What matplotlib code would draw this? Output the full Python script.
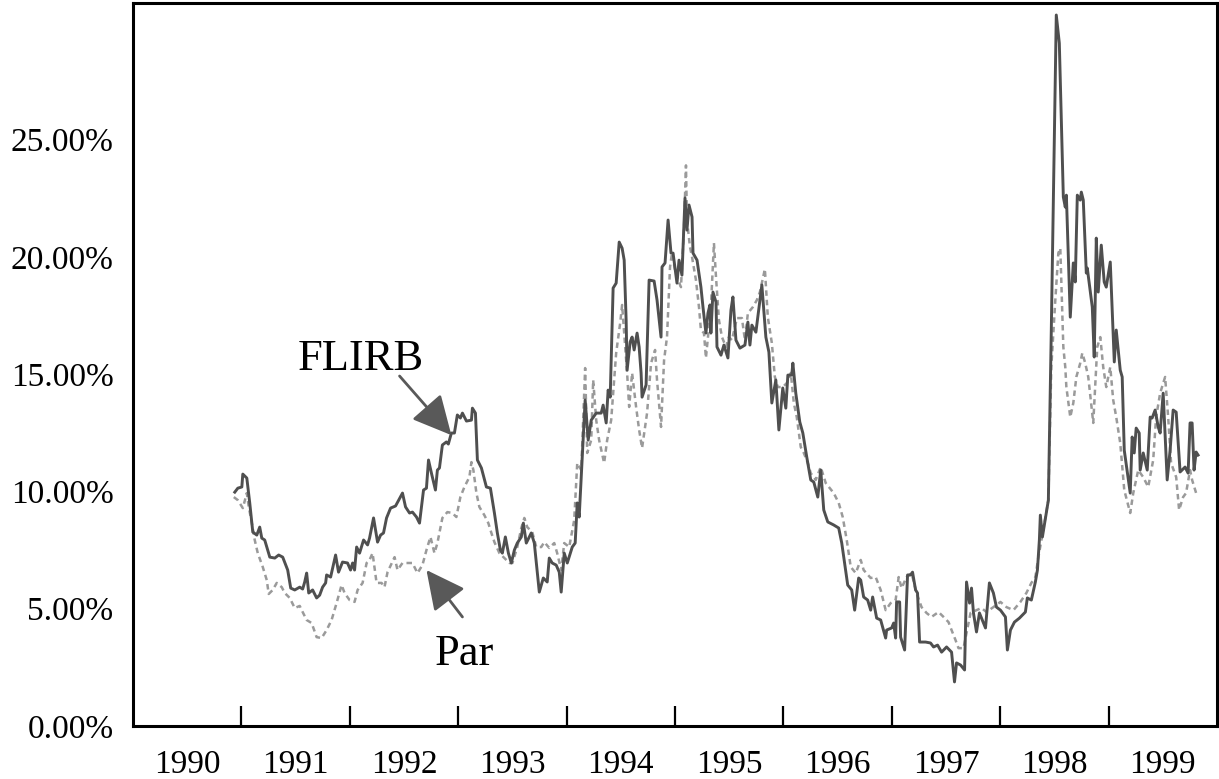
import matplotlib
matplotlib.use("Agg")
import matplotlib.pyplot as plt

plt.rcParams['font.family'] = ['Liberation Serif', 'DejaVu Serif']

# FLIRB volatility (decimal year, percent)
flirb_t = [1990.939, 1990.967, 1991.004, 1991.013, 1991.050, 1991.077, 1991.105, 1991.142, 1991.169, 1991.188,
           1991.215, 1991.262, 1991.308, 1991.344, 1991.381, 1991.427, 1991.455, 1991.492, 1991.538, 1991.565,
           1991.584, 1991.602, 1991.621, 1991.657, 1991.694, 1991.722, 1991.749, 1991.777, 1991.786, 1991.823,
           1991.869, 1991.896, 1991.933, 1991.979, 1992.007, 1992.026, 1992.044, 1992.063, 1992.090, 1992.127,
           1992.164, 1992.182, 1992.219, 1992.256, 1992.284, 1992.311, 1992.339, 1992.376, 1992.422, 1992.486,
           1992.514, 1992.551, 1992.578, 1992.615, 1992.643, 1992.680, 1992.707, 1992.726, 1992.753, 1992.790,
           1992.808, 1992.827, 1992.854, 1992.891, 1992.909, 1992.937, 1992.965, 1992.992, 1993.020, 1993.039,
           1993.076, 1993.122, 1993.131, 1993.159, 1993.177, 1993.214, 1993.260, 1993.297, 1993.334, 1993.361,
           1993.389, 1993.407, 1993.435, 1993.463, 1993.490, 1993.518, 1993.545, 1993.582, 1993.601, 1993.628,
           1993.674, 1993.702, 1993.748, 1993.785, 1993.821, 1993.840, 1993.867, 1993.904, 1993.932, 1993.950,
           1993.978, 1994.006, 1994.052, 1994.079, 1994.098, 1994.116, 1994.171, 1994.199, 1994.227, 1994.273,
           1994.319, 1994.337, 1994.365, 1994.383, 1994.402, 1994.429, 1994.457, 1994.485, 1994.512, 1994.531,
           1994.549, 1994.558, 1994.586, 1994.604, 1994.623, 1994.650, 1994.669, 1994.687, 1994.696, 1994.733,
           1994.761, 1994.807, 1994.834, 1994.871, 1994.880, 1994.908, 1994.936, 1994.963, 1994.982, 1995.000,
           1995.018, 1995.037, 1995.064, 1995.092, 1995.110, 1995.129, 1995.157, 1995.166, 1995.203, 1995.239,
           1995.258, 1995.285, 1995.304, 1995.322, 1995.331, 1995.350, 1995.378, 1995.387, 1995.424, 1995.451,
           1995.488, 1995.516, 1995.534, 1995.562, 1995.599, 1995.645, 1995.672, 1995.691, 1995.709, 1995.746,
           1995.801, 1995.838, 1995.866, 1995.893, 1995.930, 1995.958, 1995.994, 1996.022, 1996.041, 1996.077,
           1996.087, 1996.114, 1996.151, 1996.179, 1996.215, 1996.252, 1996.280, 1996.317, 1996.344, 1996.372,
           1996.409, 1996.464, 1996.510, 1996.538, 1996.593, 1996.630, 1996.657, 1996.694, 1996.713, 1996.740,
           1996.777, 1996.805, 1996.823, 1996.860, 1996.897, 1996.943, 1996.952, 1996.998, 1997.017, 1997.035,
           1997.044, 1997.072, 1997.081, 1997.118, 1997.145, 1997.173, 1997.191, 1997.219, 1997.237, 1997.256,
           1997.311, 1997.357, 1997.385, 1997.422, 1997.459, 1997.505, 1997.551, 1997.578, 1997.597, 1997.634,
           1997.671, 1997.689, 1997.717, 1997.735, 1997.753, 1997.781, 1997.808, 1997.864, 1997.900, 1997.937,
           1997.965, 1998.002, 1998.048, 1998.066, 1998.094, 1998.131, 1998.177, 1998.232, 1998.250, 1998.287,
           1998.324, 1998.343, 1998.361, 1998.370, 1998.389, 1998.444, 1998.471, 1998.517, 1998.545, 1998.582,
           1998.600, 1998.610, 1998.646, 1998.674, 1998.692, 1998.711, 1998.738, 1998.748, 1998.766, 1998.794,
           1998.803, 1998.849, 1998.867, 1998.886, 1998.904, 1998.932, 1998.959, 1998.978, 1999.015, 1999.052,
           1999.070, 1999.107, 1999.125, 1999.144, 1999.199, 1999.217, 1999.236, 1999.254, 1999.282, 1999.291,
           1999.319, 1999.356, 1999.383, 1999.401, 1999.429, 1999.457, 1999.475, 1999.503, 1999.540, 1999.567,
           1999.595, 1999.623, 1999.659, 1999.705, 1999.733, 1999.751, 1999.770, 1999.788, 1999.807, 1999.825]
flirb_v = [9.97, 10.14, 10.19, 10.74, 10.57, 9.51, 8.27, 8.14, 8.48, 8.01,
           7.93, 7.20, 7.16, 7.29, 7.20, 6.65, 5.88, 5.80, 5.92, 5.84,
           6.14, 6.52, 5.67, 5.80, 5.46, 5.58, 5.92, 6.10, 6.44, 6.35,
           7.29, 6.56, 6.99, 6.95, 6.65, 6.95, 6.65, 7.63, 7.37, 7.93,
           7.72, 8.01, 8.87, 7.84, 8.14, 8.23, 8.87, 9.29, 9.38, 9.93,
           9.34, 9.08, 9.12, 8.91, 8.65, 10.06, 10.14, 11.34, 10.78, 10.06,
           10.91, 11.00, 11.98, 12.11, 12.02, 12.49, 12.49, 13.26, 13.13, 13.34,
           13.00, 13.04, 13.55, 13.34, 11.34, 11.00, 10.19, 10.14, 9.08, 8.23,
           7.50, 7.37, 8.06, 7.37, 6.95, 7.50, 7.80, 8.06, 8.65, 7.80,
           8.23, 7.80, 5.71, 6.31, 6.14, 7.16, 6.95, 6.86, 6.56, 5.71,
           7.37, 6.95, 7.63, 7.80, 9.51, 8.91, 13.90, 12.19, 13.04, 13.34,
           13.34, 13.68, 12.92, 14.32, 14.02, 18.67, 18.88, 20.63, 20.37, 19.86,
           17.31, 15.17, 16.37, 16.58, 16.03, 16.75, 16.16, 15.05, 14.02, 14.54,
           19.01, 18.97, 18.16, 16.58, 19.57, 19.74, 21.57, 20.16, 20.16, 19.52,
           18.88, 19.86, 19.22, 22.51, 21.14, 22.21, 21.70, 20.16, 19.86, 18.71,
           17.86, 16.75, 17.60, 17.95, 16.75, 18.50, 18.07, 16.16, 15.81, 16.24,
           15.69, 17.73, 18.29, 16.45, 16.11, 16.24, 17.22, 16.24, 17.09, 16.79,
           18.80, 16.58, 15.94, 13.77, 14.75, 12.62, 14.41, 13.55, 14.96, 14.96,
           15.47, 14.19, 12.96, 12.49, 11.47, 10.49, 10.40, 9.76, 10.91, 9.21,
           8.70, 8.57, 8.44, 7.80, 6.01, 5.80, 4.94, 6.31, 6.22, 5.50,
           5.37, 4.94, 5.50, 4.60, 4.52, 3.75, 4.09, 4.18, 4.39, 3.75,
           5.29, 5.29, 3.79, 3.24, 6.44, 6.44, 6.56, 5.80, 5.67, 3.58,
           3.58, 3.54, 3.37, 3.45, 3.15, 3.37, 3.15, 1.88, 2.69, 2.60,
           2.39, 6.14, 5.24, 5.88, 4.82, 4.01, 4.82, 4.18, 6.10, 5.67,
           5.07, 4.94, 4.65, 3.24, 4.09, 4.43, 4.60, 4.86, 5.46, 5.37,
           6.14, 6.65, 7.93, 8.99, 8.06, 9.63, 16.88, 30.31, 29.11, 22.55,
           22.12, 22.63, 17.43, 19.74, 18.93, 22.63, 22.42, 22.76, 22.42, 19.31,
           19.52, 17.86, 15.73, 20.80, 18.50, 20.50, 18.93, 18.71, 19.78, 15.52,
           16.88, 15.17, 14.88, 11.76, 9.93, 12.32, 11.64, 12.70, 12.49, 10.91,
           11.64, 10.91, 13.17, 13.13, 13.47, 12.75, 12.49, 14.19, 10.49, 11.76,
           13.47, 13.38, 10.83, 11.04, 10.78, 12.92, 12.92, 10.91, 11.68, 11.55]

# Par volatility (decimal year, percent)
par_t = [1990.930, 1990.967, 1991.013, 1991.050, 1991.068, 1991.096, 1991.123, 1991.151, 1991.197, 1991.234,
         1991.252, 1991.289, 1991.326, 1991.372, 1991.400, 1991.446, 1991.492, 1991.538, 1991.565, 1991.602,
         1991.648, 1991.694, 1991.740, 1991.786, 1991.832, 1991.878, 1991.924, 1991.952, 1991.998, 1992.044,
         1992.072, 1992.118, 1992.155, 1992.182, 1992.210, 1992.247, 1992.293, 1992.320, 1992.348, 1992.413,
         1992.440, 1992.486, 1992.532, 1992.578, 1992.624, 1992.670, 1992.707, 1992.744, 1992.781, 1992.808,
         1992.854, 1992.900, 1992.946, 1992.983, 1993.020, 1993.057, 1993.103, 1993.122, 1993.140, 1993.168,
         1993.195, 1993.241, 1993.278, 1993.306, 1993.334, 1993.380, 1993.426, 1993.472, 1993.500, 1993.545,
         1993.582, 1993.610, 1993.637, 1993.683, 1993.720, 1993.766, 1993.794, 1993.840, 1993.886, 1993.913,
         1993.950, 1993.978, 1994.024, 1994.070, 1994.098, 1994.135, 1994.171, 1994.190, 1994.227, 1994.245,
         1994.273, 1994.300, 1994.346, 1994.374, 1994.411, 1994.457, 1994.494, 1994.512, 1994.531, 1994.558,
         1994.577, 1994.604, 1994.641, 1994.669, 1994.696, 1994.742, 1994.779, 1994.816, 1994.834, 1994.871,
         1994.899, 1994.926, 1994.954, 1994.972, 1995.000, 1995.028, 1995.055, 1995.083, 1995.101, 1995.110,
         1995.138, 1995.157, 1995.193, 1995.221, 1995.239, 1995.267, 1995.285, 1995.304, 1995.331, 1995.359,
         1995.378, 1995.405, 1995.433, 1995.470, 1995.497, 1995.525, 1995.571, 1995.617, 1995.645, 1995.672,
         1995.718, 1995.755, 1995.783, 1995.829, 1995.856, 1995.893, 1995.921, 1995.948, 1995.994, 1996.031,
         1996.068, 1996.096, 1996.123, 1996.160, 1996.188, 1996.225, 1996.252, 1996.298, 1996.344, 1996.390,
         1996.464, 1996.510, 1996.547, 1996.584, 1996.621, 1996.667, 1996.713, 1996.740, 1996.805, 1996.851,
         1996.897, 1996.943, 1996.989, 1997.035, 1997.063, 1997.090, 1997.136, 1997.182, 1997.228, 1997.274,
         1997.320, 1997.366, 1997.431, 1997.477, 1997.523, 1997.551, 1997.587, 1997.615, 1997.661, 1997.689,
         1997.726, 1997.781, 1997.827, 1997.873, 1997.937, 1998.002, 1998.057, 1998.122, 1998.186, 1998.241,
         1998.287, 1998.324, 1998.352, 1998.380, 1998.444, 1998.471, 1998.508, 1998.536, 1998.554, 1998.564,
         1998.582, 1998.600, 1998.610, 1998.646, 1998.674, 1998.702, 1998.738, 1998.757, 1998.784, 1998.812,
         1998.858, 1998.895, 1998.923, 1998.950, 1998.978, 1999.015, 1999.042, 1999.070, 1999.107, 1999.144,
         1999.199, 1999.227, 1999.273, 1999.319, 1999.365, 1999.411, 1999.438, 1999.475, 1999.521, 1999.549,
         1999.576, 1999.623, 1999.650, 1999.687, 1999.714, 1999.751, 1999.770, 1999.807]
par_v = [9.76, 9.63, 9.29, 9.93, 9.34, 8.65, 7.93, 7.37, 6.78, 6.22,
         5.63, 5.80, 6.10, 5.92, 5.67, 5.46, 5.03, 5.12, 4.86, 4.52,
         4.39, 3.79, 3.75, 4.09, 4.52, 5.24, 6.01, 5.67, 5.37, 5.29,
         5.80, 6.10, 6.95, 7.08, 7.37, 6.10, 6.10, 5.92, 6.56, 7.20,
         6.65, 6.95, 6.95, 6.95, 6.52, 6.86, 7.50, 8.06, 7.37, 7.80,
         8.87, 9.12, 9.08, 8.91, 9.76, 10.19, 10.61, 11.25, 10.91, 9.93,
         9.34, 8.99, 8.65, 8.23, 7.84, 7.37, 7.16, 6.95, 6.95, 7.63,
         8.44, 8.87, 8.48, 8.27, 7.63, 7.63, 7.84, 7.59, 7.80, 7.37,
         6.65, 7.80, 7.63, 8.78, 11.21, 10.91, 15.26, 11.64, 12.19, 14.75,
         13.04, 12.19, 11.21, 12.19, 13.04, 15.90, 17.18, 17.95, 16.75, 15.05,
         13.60, 15.05, 13.60, 12.62, 11.85, 13.34, 15.47, 16.03, 14.75, 12.75,
         15.60, 16.58, 19.57, 20.16, 19.44, 19.01, 18.71, 21.27, 23.90, 21.57,
         20.42, 19.99, 19.01, 17.86, 16.88, 16.75, 15.69, 16.58, 17.86, 20.59,
         19.14, 17.31, 16.58, 16.16, 16.58, 16.45, 17.39, 17.39, 16.45, 17.60,
         17.86, 18.16, 18.50, 19.48, 17.43, 16.33, 14.88, 14.45, 14.45, 14.62,
         15.05, 13.77, 13.17, 11.89, 11.64, 11.21, 10.78, 10.49, 11.04, 10.36,
         9.93, 9.51, 8.91, 7.93, 6.78, 6.52, 7.08, 6.65, 6.31, 6.35,
         5.80, 4.94, 5.24, 5.37, 6.35, 5.88, 6.35, 6.52, 5.67, 5.07,
         4.82, 4.65, 4.86, 4.65, 4.43, 4.09, 3.67, 3.32, 3.32, 3.96,
         4.82, 4.94, 5.03, 4.86, 5.07, 5.29, 5.07, 4.94, 5.29, 5.67,
         6.10, 6.35, 7.20, 7.93, 9.63, 15.30, 18.16, 20.16, 20.37, 18.88,
         16.16, 15.30, 14.45, 13.17, 13.77, 14.88, 15.47, 15.90, 15.47, 14.88,
         12.92, 16.16, 16.58, 15.30, 14.45, 15.30, 13.90, 13.17, 12.06, 10.06,
         9.08, 9.93, 10.91, 10.61, 10.19, 11.34, 13.17, 14.19, 14.88, 13.17,
         11.21, 10.61, 9.21, 9.76, 9.93, 10.91, 10.49, 9.93]

years = list(range(1990, 2000))
y_ticks = [0, 5, 10, 15, 20, 25]

fig = plt.figure(figsize=(12.19, 7.79), dpi=100)
ax = fig.add_axes([0.1091, 0.068, 0.8893, 0.9281])

ax.plot(par_t, par_v, color='#9a9a9a', lw=1.8, dashes=(2.2, 1.6))
ax.plot(flirb_t, flirb_v, color='#4f4f4f', lw=2.1)

ax.set_xlim(1990, 2000)
ax.set_ylim(0, 30.82)

# category style axis: ticks between years, labels centred in each year
ax.set_xticks(years[1:])
ax.set_xticklabels([])
ax.set_xticks([y + 0.5 for y in years], minor=True)
ax.set_xticklabels([str(y) for y in years], minor=True, fontsize=24)
ax.tick_params(axis='x', which='major', direction='in', length=14.5, width=1.6, color='black')
ax.tick_params(axis='x', which='minor', length=0, pad=17)

ax.set_yticks(y_ticks)
ax.set_yticklabels(['%.2f%%' % v for v in y_ticks], fontsize=24)
ax.tick_params(axis='y', length=0, pad=14)

for s in ax.spines.values():
    s.set_linewidth(2.2)
    s.set_color('black')

arrow_kw = dict(arrowstyle='-|>,head_length=0.8,head_width=0.4', mutation_scale=30,
                color='#595959', lw=2, shrinkA=0, shrinkB=0)
ax.annotate('', xy=(1992.937, 12.40), xytext=(1992.459, 14.92), arrowprops=arrow_kw)
ax.annotate('', xy=(1992.707, 6.65), xytext=(1993.039, 4.65), arrowprops=arrow_kw)
ax.text(1992.099, 15.17, 'FLIRB', fontsize=32, ha='center', va='baseline')
ax.text(1993.057, 2.60, 'Par', fontsize=32, ha='center', va='baseline')

fig.savefig('out.png', dpi=100, facecolor='white')
